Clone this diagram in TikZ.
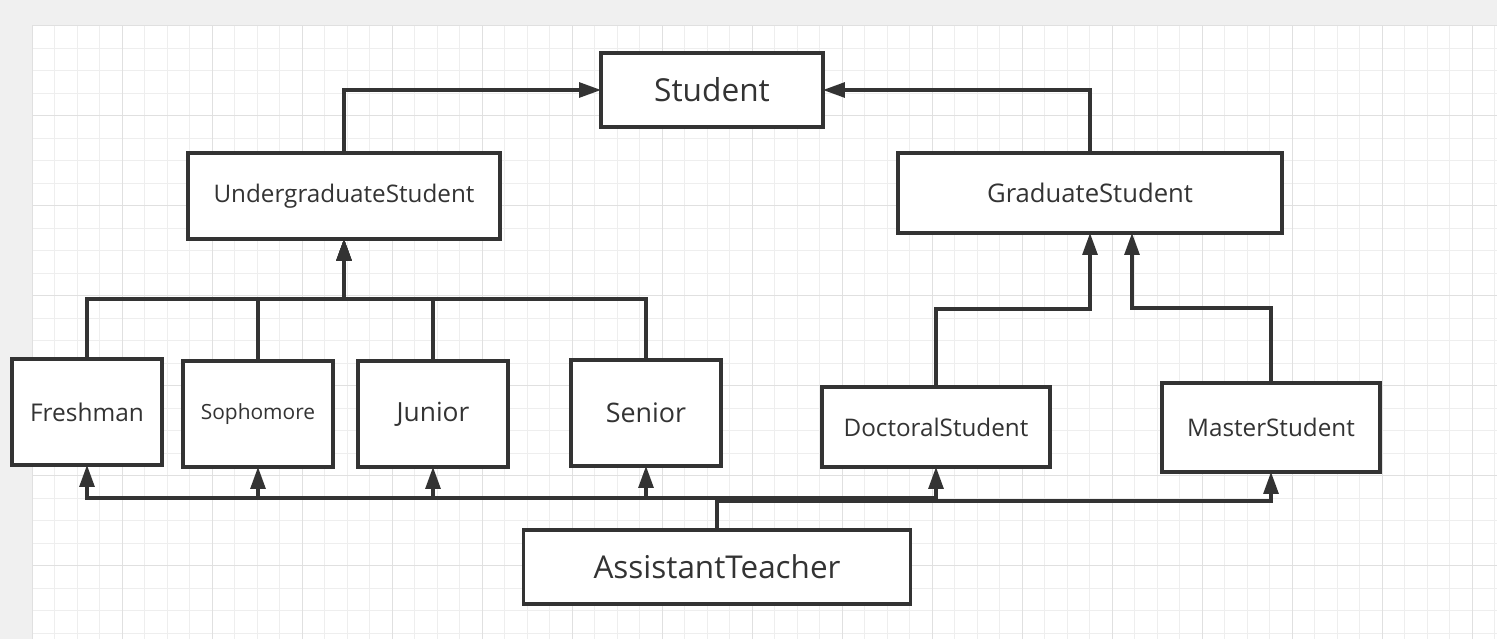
\documentclass[tikz,border=0pt]{standalone}
\usepackage{fontspec}
\setmainfont{Open Sans}
\usepackage{tikz}
\usetikzlibrary{arrows.meta}
\definecolor{ink}{RGB}{51,51,51}
\definecolor{canvas}{RGB}{240,240,240}
\definecolor{gridminor}{RGB}{238,238,238}
\definecolor{gridmajor}{RGB}{224,224,224}

\begin{document}
\begin{tikzpicture}[
  x=0.02cm, y=-0.02cm,
  cls/.style n args={3}{draw=ink, line width=1.9pt, fill=white, inner sep=0pt, outer sep=0pt, text=ink,
    minimum width=#1*0.02cm, minimum height=#2*0.02cm, font=\fontsize{#3}{#3}\selectfont},
  arr/.style={-{Triangle[length=12.5pt,width=8.5pt]}, line width=1.8pt, draw=ink}
]
\useasboundingbox (0,0) rectangle (1497,639);
\fill[canvas] (0,0) rectangle (1497,639);
\fill[white] (32,25.5) rectangle (1497,639);
\foreach \x in {32,54.5,...,1497} \draw[gridminor, line width=0.5pt] (\x,25.5) -- (\x,639);
\foreach \y in {25.5,48,...,639} \draw[gridminor, line width=0.5pt] (32,\y) -- (1497,\y);
\foreach \x in {32,122,...,1497} \draw[gridmajor, line width=0.5pt] (\x,25.5) -- (\x,639);
\foreach \y in {25.5,115.5,...,639} \draw[gridmajor, line width=0.5pt] (32,\y) -- (1497,\y);

\node[cls={222}{74}{18}] (stud) at (712,90) {Student};
\node[cls={312}{86}{13.8}] (ug) at (344,196) {UndergraduateStudent};
\node[cls={384}{80}{14.6}] (grad) at (1090,193) {GraduateStudent};
\node[cls={150}{106}{13.9}] (fresh) at (87,412) {Freshman};
\node[cls={150}{106}{11.9}] (soph) at (258,414) {Sophomore};
\node[cls={150}{106}{15}] (jun) at (433,414) {Junior};
\node[cls={150}{106}{15.3}] (sen) at (646,413) {Senior};
\node[cls={228}{80}{13.8}] (doc) at (936,427) {DoctoralStudent};
\node[cls={218}{89}{13.8}] (mst) at (1271,427.5) {MasterStudent};
\node[cls={387}{74}{17.9}] (at) at (717,567) {AssistantTeacher};

\coordinate (ubus) at (0,299);
\coordinate (dturn) at (0,309);
\coordinate (mturn) at (0,308);
\coordinate (tbus) at (0,498);
\coordinate (tbusm) at (0,501);

\draw[arr] (ug.north) |- (stud.west);
\draw[arr] (grad.north) |- (stud.east);
\foreach \n in {fresh,soph,jun,sen}
  \draw[arr] (\n.north) -- (\n.north |- ubus) -| (ug.south);
\draw[arr] (doc.north) -- (doc.north |- dturn) -| (grad.south);
\draw[arr] (mst.north) -- (mst.north |- mturn) -| ([xshift=0.84cm]grad.south);
\foreach \n in {fresh,soph,jun,sen,doc}
  \draw[arr] (at.north) -- (at.north |- tbus) -| (\n.south);
\draw[arr] (at.north) -- (at.north |- tbusm) -| (mst.south);
\end{tikzpicture}
\end{document}
